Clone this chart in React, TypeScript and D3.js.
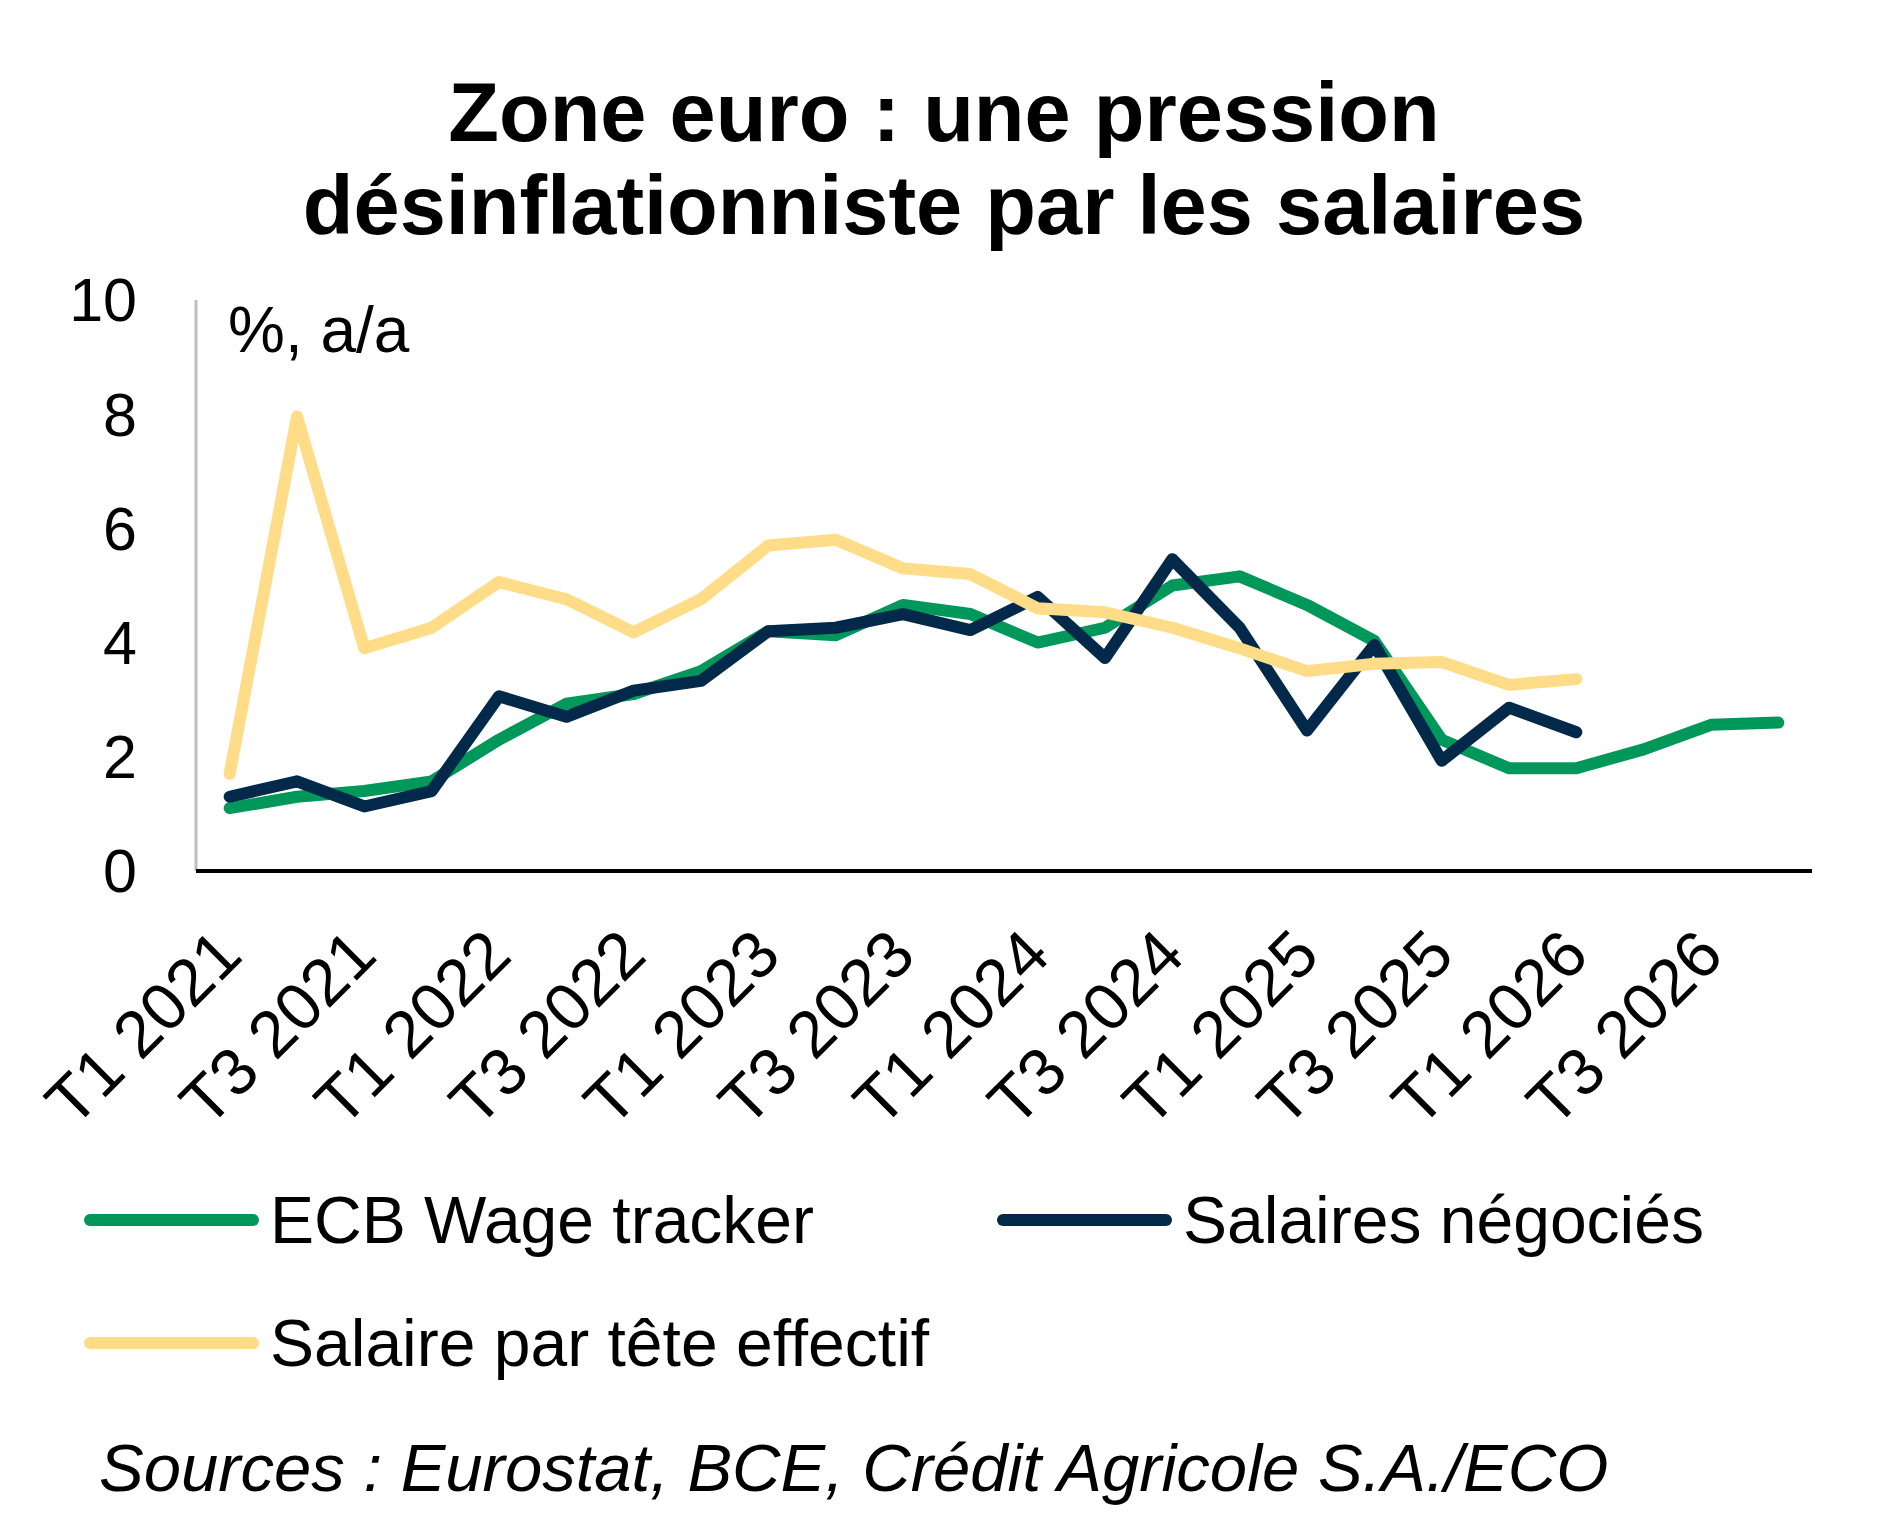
import React, { useEffect, useRef } from 'react';
import * as d3 from 'd3';

// quarters on the x axis
const quarters = [
  'T1 2021', 'T2 2021', 'T3 2021', 'T4 2021',
  'T1 2022', 'T2 2022', 'T3 2022', 'T4 2022',
  'T1 2023', 'T2 2023', 'T3 2023', 'T4 2023',
  'T1 2024', 'T2 2024', 'T3 2024', 'T4 2024',
  'T1 2025', 'T2 2025', 'T3 2025', 'T4 2025',
  'T1 2026', 'T2 2026', 'T3 2026', 'T4 2026',
];
const tickLabels = quarters.filter((q, i) => i % 2 === 0);
const yTicks = [0, 2, 4, 6, 8, 10];

const wageTracker = [1.1, 1.3, 1.4, 1.57, 2.3, 2.93, 3.1, 3.5, 4.2, 4.13, 4.66, 4.5, 4.0, 4.26, 5.0, 5.16, 4.66, 4.03, 2.3, 1.8, 1.8, 2.13, 2.56, 2.6];
const salairesNegocies = [1.3, 1.57, 1.13, 1.4, 3.06, 2.7, 3.16, 3.33, 4.2, 4.26, 4.5, 4.22, 4.8, 3.73, 5.46, 4.26, 2.46, 3.96, 1.93, 2.86, 2.43];
const salaireParTete = [1.7, 7.96, 3.9, 4.26, 5.06, 4.76, 4.18, 4.76, 5.7, 5.8, 5.3, 5.2, 4.6, 4.53, 4.26, 3.9, 3.5, 3.63, 3.66, 3.26, 3.36];

const series = [
  { name: 'ECB Wage tracker', values: wageTracker, color: '#00985a' },
  { name: 'Salaires négociés', values: salairesNegocies, color: '#03294a' },
  { name: 'Salaire par tête effectif', values: salaireParTete, color: '#ffdc88' },
];

const font = 'Liberation Sans, Arial, sans-serif';

export default function App() {
  const ref = useRef(null);

  useEffect(() => {
    const svg = d3.select(ref.current);
    svg.selectAll('*').remove();

    const left = 196, right = 1812, top = 300, bottom = 871;

    const x = d3.scalePoint().domain(quarters).range([left, right]).padding(0.5);
    const y = d3.scaleLinear().domain([0, 10]).range([bottom, top]);

    // title
    const title = svg.append('text')
      .attr('text-anchor', 'middle')
      .attr('font-family', font)
      .attr('font-weight', 'bold')
      .attr('font-size', 83);
    title.append('tspan').attr('x', 944).attr('y', 141).text('Zone euro : une pression');
    title.append('tspan').attr('x', 944).attr('y', 234).text('désinflationniste par les salaires');

    // y axis
    svg.append('line')
      .attr('x1', left).attr('x2', left)
      .attr('y1', top).attr('y2', bottom)
      .attr('stroke', '#c0c0c0').attr('stroke-width', 3);

    svg.selectAll('.ytick')
      .data(yTicks)
      .enter()
      .append('text')
      .attr('class', 'ytick')
      .attr('x', 137)
      .attr('y', d => y(d))
      .attr('dy', '0.35em')
      .attr('text-anchor', 'end')
      .attr('font-family', font)
      .attr('font-size', 61)
      .text(d => d);

    svg.append('text')
      .attr('x', 228).attr('y', 352)
      .attr('font-family', font)
      .attr('font-size', 64)
      .text('%, a/a');

    // x labels, every second quarter
    svg.selectAll('.xlabel')
      .data(tickLabels)
      .enter()
      .append('text')
      .attr('class', 'xlabel')
      .attr('text-anchor', 'end')
      .attr('font-family', font)
      .attr('font-size', 66)
      .attr('transform', d => `translate(${x(d) + 15},958) rotate(-45)`)
      .text(d => d);

    // lines
    const line = d3.line()
      .x((d, i) => x(quarters[i]))
      .y(d => y(d));

    svg.selectAll('.serie')
      .data(series)
      .enter()
      .append('path')
      .attr('class', 'serie')
      .attr('d', d => line(d.values))
      .attr('fill', 'none')
      .attr('stroke', d => d.color)
      .attr('stroke-width', 12)
      .attr('stroke-linecap', 'round')
      .attr('stroke-linejoin', 'round');

    // x axis on top
    svg.append('line')
      .attr('x1', left).attr('x2', right)
      .attr('y1', bottom).attr('y2', bottom)
      .attr('stroke', '#000').attr('stroke-width', 4);

    // legend
    const legendPos = [
      { x: 90, y: 1220 },
      { x: 1003, y: 1220 },
      { x: 90, y: 1343 },
    ];
    const legend = svg.selectAll('.legend')
      .data(series)
      .enter()
      .append('g')
      .attr('class', 'legend')
      .attr('transform', (d, i) => `translate(${legendPos[i].x},${legendPos[i].y})`);
    legend.append('line')
      .attr('x1', 0).attr('x2', 163)
      .attr('stroke', d => d.color)
      .attr('stroke-width', 12)
      .attr('stroke-linecap', 'round');
    legend.append('text')
      .attr('x', 180)
      .attr('y', 23)
      .attr('font-family', font)
      .attr('font-size', 66)
      .text(d => d.name);

    svg.append('text')
      .attr('x', 99).attr('y', 1491)
      .attr('font-family', font)
      .attr('font-style', 'italic')
      .attr('font-size', 67)
      .text('Sources : Eurostat, BCE, Crédit Agricole S.A./ECO');
  }, []);

  return (
    <svg ref={ref} width={1890} height={1535}
      style={{ position: 'absolute', left: 0, top: 0, background: '#fff' }} />
  );
}
